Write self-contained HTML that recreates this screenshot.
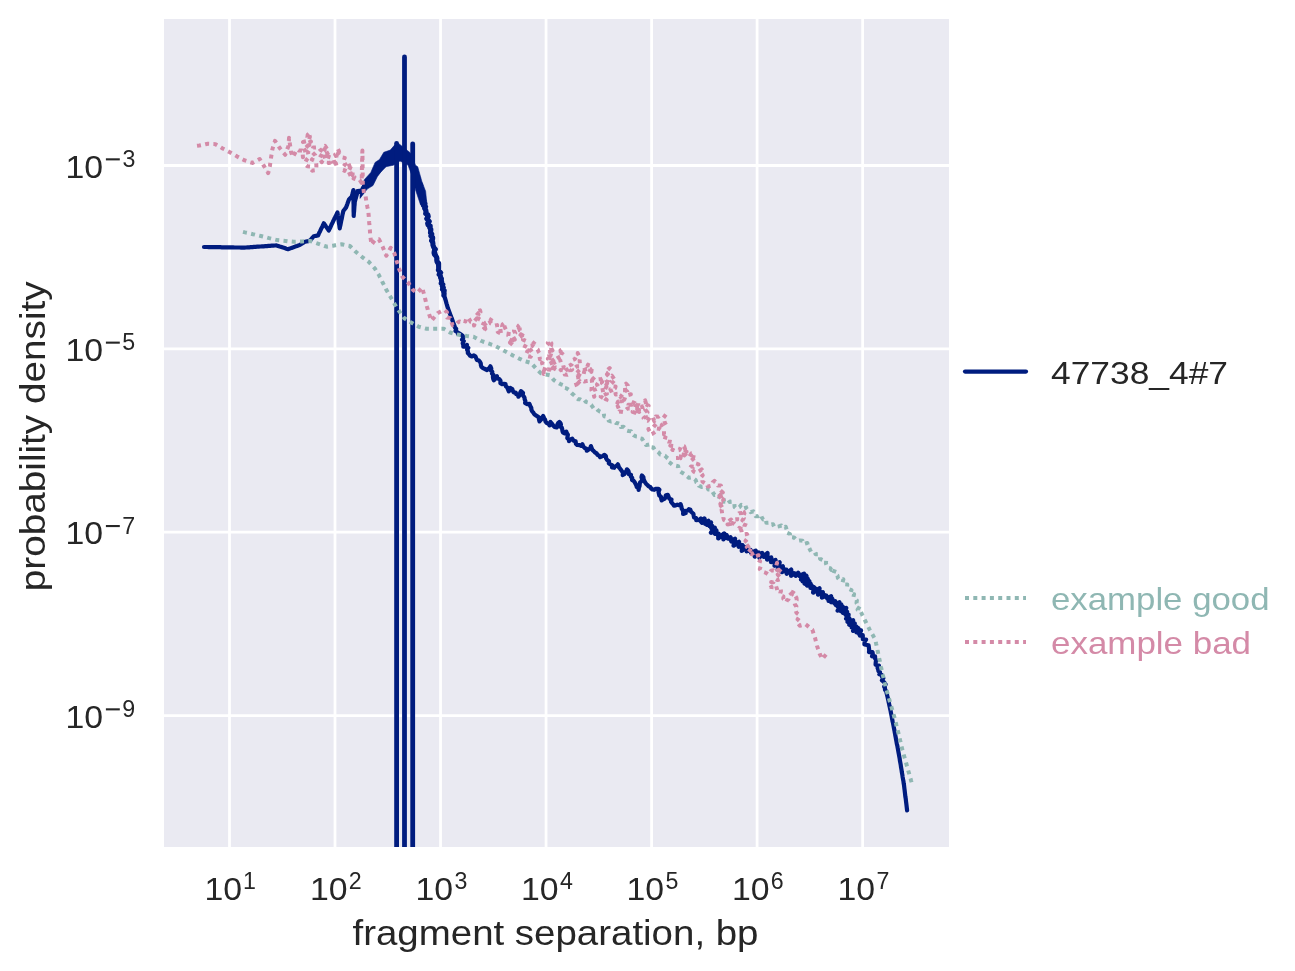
<!DOCTYPE html>
<html><head><meta charset="utf-8"><style>
html,body{margin:0;padding:0;background:#fff;width:1295px;height:971px;overflow:hidden}
svg{display:block;will-change:transform}
text{font-family:"Liberation Sans",sans-serif}
</style></head><body>
<svg width="1295" height="971" viewBox="0 0 1295 971">
<defs><clipPath id="clip"><rect x="164" y="19" width="785" height="828"/></clipPath></defs>
<rect x="0" y="0" width="1295" height="971" fill="#fff"/>
<rect x="164" y="19" width="785" height="828" fill="#eaeaf2"/>
<line x1="229.50" y1="19" x2="229.50" y2="847" stroke="#fff" stroke-width="2.78"/>
<line x1="335.02" y1="19" x2="335.02" y2="847" stroke="#fff" stroke-width="2.78"/>
<line x1="440.54" y1="19" x2="440.54" y2="847" stroke="#fff" stroke-width="2.78"/>
<line x1="546.06" y1="19" x2="546.06" y2="847" stroke="#fff" stroke-width="2.78"/>
<line x1="651.58" y1="19" x2="651.58" y2="847" stroke="#fff" stroke-width="2.78"/>
<line x1="757.10" y1="19" x2="757.10" y2="847" stroke="#fff" stroke-width="2.78"/>
<line x1="862.62" y1="19" x2="862.62" y2="847" stroke="#fff" stroke-width="2.78"/>
<line x1="164" y1="165.50" x2="949" y2="165.50" stroke="#fff" stroke-width="2.78"/>
<line x1="164" y1="348.84" x2="949" y2="348.84" stroke="#fff" stroke-width="2.78"/>
<line x1="164" y1="532.18" x2="949" y2="532.18" stroke="#fff" stroke-width="2.78"/>
<line x1="164" y1="715.52" x2="949" y2="715.52" stroke="#fff" stroke-width="2.78"/>
<g clip-path="url(#clip)">
<path d="M204.0,247.0 L205.6,247.0 L207.2,247.0 L208.8,247.1 L210.5,247.1 L212.1,247.1 L213.7,247.1 L215.3,247.2 L216.9,247.2 L218.5,247.2 L220.2,247.2 L221.8,247.3 L223.4,247.3 L225.0,247.3 L226.6,247.3 L228.2,247.4 L229.9,247.4 L231.5,247.4 L233.1,247.4 L234.7,247.5 L236.3,247.5 L237.9,247.5 L239.6,247.5 L241.2,247.6 L242.8,247.6 L244.4,247.6 L246.0,247.5 L247.6,247.4 L249.2,247.3 L250.8,247.2 L252.4,247.1 L254.0,246.9 L255.6,246.8 L257.2,246.7 L258.8,246.6 L260.4,246.5 L262.1,246.4 L263.7,246.3 L265.3,246.2 L266.9,246.1 L268.5,245.9 L270.1,245.8 L271.7,245.7 L273.3,245.6 L274.9,245.5 L276.5,245.4 L278.1,245.9 L279.8,246.5 L281.4,247.0 L283.1,247.6 L284.7,248.1 L286.4,248.7 L288.0,249.2 L289.8,248.6 L291.6,247.9 L293.4,247.3 L295.2,246.6 L297.0,246.0 L300.0,244.9 L301.4,243.9 L302.9,243.0 L304.3,242.0 L306.2,241.5 L308.2,241.1 L310.1,240.6 L311.3,239.1 L312.5,237.7 L313.7,236.2 L315.9,235.8 L318.0,235.5 L318.7,234.0 L319.4,232.4 L320.2,230.9 L320.9,229.4 L321.6,227.9 L322.4,226.4 L323.1,224.8 L323.8,223.3 L324.8,224.7 L325.8,226.2 L326.8,227.6 L327.8,229.1 L328.8,230.5 L329.5,228.9 L330.3,227.4 L331.0,225.8 L331.7,224.2 L332.5,222.7 L333.2,221.1 L333.9,219.7 L334.6,218.2 L335.4,216.8 L336.1,215.3 L336.8,213.8 L337.5,212.4 L337.7,214.0 L337.9,215.6 L338.2,217.2 L338.4,218.8 L338.6,220.4 L338.8,221.9 L339.0,223.5 L339.3,225.1 L339.5,226.7 L339.7,228.3 L340.0,226.7 L340.4,225.2 L340.7,223.6 L341.0,222.0 L341.3,220.4 L341.7,218.9 L342.0,217.3 L342.3,215.7 L342.6,214.1 L343.0,212.6 L343.3,211.0 L344.7,209.2 L346.1,207.4 L346.7,205.8 L347.3,204.2 L347.8,202.7 L348.4,201.1 L349.0,199.5 L350.4,198.1 L351.9,196.6 L352.3,195.0 L352.6,193.3 L353.0,191.7 L353.4,190.1 L353.4,191.7 L353.4,193.3 L353.5,195.0 L353.5,196.6 L353.5,198.2 L353.5,199.8 L353.5,201.4 L353.5,203.1 L353.6,204.7 L353.6,206.3 L353.6,207.9 L353.6,209.5 L353.6,211.1 L353.7,212.8 L353.7,214.4 L353.7,216.0 L353.8,214.4 L353.9,212.8 L354.1,211.2 L354.2,209.6 L354.3,208.0 L354.4,206.4 L354.6,204.8 L354.7,203.2 L354.8,201.6 L355.3,199.9 L355.8,198.2 L356.2,196.6 L356.7,194.9 L357.2,193.2 L357.7,191.5 L359.5,191.5 L361.3,191.5 L362.2,190.1 L363.1,188.7 L364.0,187.2 L364.9,185.8 L366.0,184.5 L367.0,183.2 L368.1,182.0 L369.2,180.7 L370.4,179.5 L371.6,178.3 L372.8,177.1 L374.0,175.9 L375.2,174.8 L376.4,173.6 L377.6,172.4 L378.8,171.2 L380.0,170.0 L381.2,168.8 L382.3,167.5 L383.5,166.3 L384.6,165.1 L385.8,163.8 L386.9,162.6 L388.1,161.4 L389.2,160.2 L390.4,158.9 L391.5,157.7 L392.7,156.5 L393.8,155.2 L395.0,154.0 L396.5,154.6 L398.0,155.2 L399.5,155.8 L401.0,156.4 L402.5,157.0 L404.0,157.6 L405.5,158.2 L407.0,158.8 L408.5,159.4 L410.0,160.0 L410.7,161.5 L411.3,163.0 L412.0,164.5 L412.7,166.0 L413.3,167.5 L414.0,169.0 L414.7,170.5 L415.3,172.0 L416.0,173.5 L416.7,175.0 L417.3,176.5 L418.0,178.0 L418.4,179.7 L418.7,181.4 L419.1,183.1 L419.5,184.8 L419.9,186.5 L420.2,188.2 L420.6,189.9 L421.0,191.6 L421.3,193.3 L421.7,195.0 L422.1,196.7 L422.5,198.3 L422.9,200.0 L423.4,201.7 L423.8,203.4 L424.2,205.1 L424.6,206.7 L425.0,208.4 L425.4,210.1 L425.9,211.7 L426.4,213.4 L426.8,215.1 L427.2,216.7 L427.7,218.4 L428.0,220.0 L428.4,221.6 L428.7,223.2 L429.0,224.8 L429.4,226.3 L429.7,227.9 L430.1,229.5 L430.4,231.1 L430.7,232.9 L431.1,234.6 L431.4,236.4 L431.8,238.1 L432.1,239.9 L432.4,241.7 L432.8,243.4 L433.1,245.2 L433.5,246.8 L434.0,248.5 L434.4,250.1 L434.9,251.8 L435.3,253.4 L435.8,255.1 L436.2,256.7 L436.7,258.4 L437.1,260.0 L437.4,261.7 L437.7,263.4 L438.1,265.0 L438.4,266.7 L438.7,268.4 L439.0,270.1 L439.4,271.8 L439.7,273.4 L440.0,275.1 L440.4,276.8 L440.7,278.4 L441.1,280.1 L441.4,281.8 L441.7,283.5 L442.1,285.1 L442.4,286.8 L442.8,288.5 L443.1,290.2 L443.4,291.9 L443.8,293.5 L444.1,295.2 L444.6,296.9 L445.1,298.5 L445.6,300.2 L446.1,301.9 L446.5,303.5 L447.0,305.2 L447.5,306.8 L448.0,308.5 L448.6,310.1 L449.2,311.7 L449.8,313.3 L450.4,314.9 L451.0,316.4 L451.5,317.9 L452.1,319.4 L452.7,321.0 L453.2,322.5 L453.8,324.0 L454.4,325.7 L454.9,327.4 L456.2,328.9 L455.5,331.0 L457.5,332.2 L458.0,333.9 L459.4,333.4 L461.7,335.0 L462.7,335.9 L463.3,337.6 L462.0,339.6 L463.8,341.1 L462.7,343.2 L463.3,344.9 L463.3,346.7 L465.9,346.5 L466.9,344.9 L466.5,346.5 L468.3,347.9 L467.1,349.8 L467.9,351.3 L467.8,353.0 L469.3,354.5 L470.0,355.6 L471.6,356.5 L473.9,355.4 L475.4,356.5 L476.2,358.2 L476.9,359.9 L478.9,360.5 L480.0,361.8 L480.8,363.5 L480.9,365.3 L481.5,366.9 L483.0,368.1 L485.0,369.0 L487.0,370.0 L488.0,368.9 L489.5,367.9 L490.4,366.3 L491.3,368.6 L490.8,370.4 L492.3,371.8 L492.0,373.7 L493.6,375.1 L492.9,377.0 L493.2,378.7 L493.8,380.3 L495.0,378.9 L495.9,377.4 L497.0,376.3 L497.1,378.2 L499.4,379.1 L500.5,380.7 L500.4,383.1 L502.1,384.1 L503.9,383.8 L505.5,384.1 L505.8,386.2 L507.4,387.6 L508.0,389.5 L508.8,391.3 L509.6,390.0 L510.5,388.0 L512.3,389.0 L512.8,390.8 L513.6,392.3 L515.7,392.5 L516.3,394.2 L517.9,394.9 L518.4,396.7 L519.9,394.7 L520.2,392.8 L521.0,391.2 L523.0,392.8 L522.7,394.7 L523.5,396.2 L524.5,397.7 L524.7,399.4 L525.4,401.0 L525.1,402.9 L526.9,404.1 L529.4,403.8 L529.7,404.5 L530.3,406.2 L531.3,407.8 L531.4,409.7 L532.2,411.3 L533.4,412.7 L534.3,414.3 L535.8,415.4 L537.3,416.3 L538.7,417.3 L539.0,419.4 L539.5,421.4 L541.3,419.4 L542.1,417.6 L543.2,416.0 L544.1,418.1 L545.1,419.6 L545.5,421.5 L546.6,422.9 L548.5,423.9 L549.5,425.4 L549.6,423.8 L550.5,422.0 L552.1,423.9 L553.2,425.5 L554.5,426.9 L556.7,427.4 L557.7,426.5 L557.4,424.6 L558.2,423.1 L559.4,421.9 L560.4,422.9 L560.9,424.4 L560.1,426.4 L561.7,427.5 L562.2,429.1 L562.4,430.8 L562.8,432.3 L564.6,433.3 L564.9,432.4 L566.3,431.6 L566.9,433.3 L567.9,434.7 L567.6,436.4 L567.3,438.2 L568.9,439.5 L569.0,441.1 L570.4,439.4 L572.2,438.7 L573.5,440.7 L575.6,441.2 L575.9,443.7 L577.2,445.0 L579.7,445.2 L581.1,445.9 L582.4,444.2 L583.2,446.3 L584.4,447.8 L586.3,448.7 L586.8,450.7 L588.7,449.4 L590.3,448.2 L590.9,446.1 L591.7,448.2 L592.3,449.9 L593.7,451.0 L594.9,452.4 L596.6,453.4 L597.4,454.8 L599.1,455.6 L600.2,457.2 L602.6,456.1 L604.5,454.9 L605.9,456.1 L606.1,458.3 L607.2,460.0 L609.0,461.2 L608.8,463.3 L610.3,464.4 L612.2,465.1 L612.0,467.4 L614.3,467.8 L614.8,466.6 L616.7,465.8 L617.9,464.3 L618.5,465.8 L619.0,467.4 L620.1,468.7 L621.2,470.1 L622.2,471.6 L623.1,473.0 L622.7,475.1 L624.5,473.9 L625.2,472.3 L626.5,471.1 L626.9,469.3 L628.3,470.7 L628.8,472.3 L628.8,474.2 L631.0,474.8 L630.9,476.7 L632.2,477.9 L632.0,479.9 L633.7,480.9 L634.7,482.3 L635.5,483.8 L636.3,485.4 L636.8,487.0 L638.5,488.0 L638.6,490.0 L638.9,487.7 L639.6,486.0 L639.7,484.2 L640.1,482.4 L641.8,481.0 L642.1,479.2 L641.5,477.2 L641.9,475.5 L643.4,477.2 L643.6,479.1 L644.3,480.9 L645.2,482.5 L646.3,484.0 L647.8,485.3 L648.7,486.4 L650.2,487.0 L651.2,488.5 L652.5,489.5 L654.2,489.8 L655.7,488.9 L658.2,488.8 L659.4,489.7 L658.5,491.9 L658.9,493.7 L659.3,495.4 L661.0,496.8 L661.2,498.6 L661.7,500.4 L663.2,499.3 L664.8,498.5 L665.4,496.9 L665.9,495.2 L667.8,494.8 L668.2,495.7 L668.8,497.3 L669.4,498.8 L671.5,499.5 L671.0,501.7 L672.0,503.0 L673.2,504.3 L674.0,505.7 L675.7,505.4 L677.3,504.7 L679.0,505.2 L680.6,504.1 L681.4,506.7 L681.7,508.6 L682.8,510.2 L683.2,512.0 L683.1,514.0 L685.7,513.1 L685.8,510.8 L687.9,510.6 L688.9,509.2 L690.4,509.8 L690.9,511.5 L692.2,512.7 L693.4,513.8 L693.7,515.7 L694.1,517.5 L696.1,518.1 L696.2,520.1 L698.9,519.9 L700.9,518.5 L703.1,519.7 L704.4,520.5 L705.4,522.2 L707.7,523.8 L709.7,525.9 L712.2,527.6 L712.5,529.5 L713.3,531.0 L714.4,532.2 L716.1,532.9 L717.7,534.9 L720.0,535.8 L722.0,537.0 L724.0,537.6 L726.0,538.0 L728.0,538.3 L730.0,538.9 L732.0,539.7 L734.0,540.7 L736.0,542.1 L738.0,543.4 L740.0,544.7 L742.0,545.8 L744.0,546.9 L746.0,548.0 L748.0,549.2 L750.0,550.5 L752.0,552.0 L754.0,553.3 L756.0,554.3 L758.0,555.0 L760.0,555.5 L762.0,555.7 L764.0,556.1 L766.0,556.9 L768.0,558.1 L770.0,559.4 L772.0,560.8 L774.0,562.2 L776.0,563.5 L778.0,564.8 L780.0,566.2 L782.0,567.6 L784.0,569.0 L786.0,570.3 L788.0,571.4 L790.0,572.3 L792.0,573.0 L794.0,573.4 L796.0,573.7 L798.0,574.1 L800.0,575.0 L802.0,576.5 L804.0,578.4 L806.0,580.5 L808.0,582.6 L810.0,584.3 L812.0,585.9 L814.0,587.4 L816.0,588.9 L818.0,590.4 L820.0,591.7 L822.0,593.2 L824.0,594.6 L826.0,596.2 L828.0,597.8 L830.0,599.5 L832.0,601.2 L834.0,602.8 L836.0,604.4 L838.0,606.1 L840.0,607.9 L842.0,609.8 L844.0,612.0 L845.0,613.2 L846.0,614.5 L847.0,615.9 L848.0,617.3 L849.0,618.8 L850.0,620.2 L851.0,621.7 L852.0,623.2 L853.0,624.6 L854.0,626.0 L855.0,627.3 L857.3,627.6 L859.2,630.0 L859.6,633.8 L859.9,635.6 L862.8,635.2 L862.8,639.2 L866.1,639.5 L864.9,641.2 L864.5,642.9 L864.4,644.5 L868.6,645.3 L868.9,647.6 L869.2,650.0 L869.0,652.1 L872.5,652.0 L872.8,653.8 L872.0,656.3 L875.1,656.4 L875.1,658.4 L876.1,660.2 L875.7,662.5 L875.6,664.7 L878.9,665.6 L877.6,667.9 L878.2,669.4 L878.4,671.1 L880.0,672.3 L879.3,674.3 L881.8,675.1 L882.1,676.8 L883.3,678.2 L881.9,680.4 L883.5,681.6 L884.7,683.0 L885.6,684.4 L884.2,686.7 L885.0,688.1 L885.0,689.8 L886.2,691.2 L886.5,692.7 L886.9,694.3 L887.3,695.9 L887.7,697.5 L888.0,699.1 L888.4,700.7 L888.7,702.3 L889.1,703.9 L889.4,705.6 L889.8,707.2 L890.1,708.8 L890.5,710.4 L890.8,712.0 L891.1,713.6 L891.4,715.2 L891.7,716.7 L892.0,718.3 L892.3,719.9 L892.6,721.5 L893.0,723.0 L893.3,724.6 L893.6,726.2 L893.9,727.8 L894.2,729.3 L894.5,730.9 L894.8,732.5 L895.1,734.1 L895.4,735.8 L895.7,737.4 L896.0,739.1 L896.3,740.7 L896.6,742.4 L896.9,744.0 L897.3,745.7 L897.6,747.3 L897.9,749.0 L898.2,750.6 L898.5,752.3 L898.8,753.9 L899.1,755.6 L899.4,757.2 L899.7,758.8 L899.9,760.5 L900.2,762.1 L900.5,763.7 L900.8,765.4 L901.0,767.0 L901.3,768.6 L901.6,770.3 L901.8,771.9 L902.1,773.6 L902.4,775.2 L902.6,776.8 L902.9,778.5 L903.2,780.1 L903.5,781.7 L903.7,783.4 L904.0,785.0 L904.2,786.7 L904.4,788.4 L904.6,790.1 L904.8,791.8 L905.0,793.5 L905.2,795.2 L905.4,796.9 L905.7,798.5 L905.9,800.2 L906.1,801.9 L906.3,803.6 L906.5,805.3 L906.7,807.0 L906.9,808.7 L907.1,810.4" fill="none" stroke="#001c7f" stroke-width="4.2" stroke-linejoin="round" stroke-linecap="round"/>
<path d="M357.7,191.5 L359.5,191.3 L361.3,191.7 L363.3,190.8 L363.0,188.6 L364.0,187.2 L365.1,185.9 L365.2,183.9 L367.1,183.3 L368.4,182.2 L369.9,181.3" fill="none" stroke="#001c7f" stroke-width="5.0" stroke-linejoin="round" stroke-linecap="round"/>
<path d="M418.0,178.0 L418.4,179.5 L418.3,181.2 L418.6,182.7 L420.2,184.0 L420.8,185.5 L420.3,187.2 L420.9,188.7 L420.0,190.5 L420.6,192.0 L421.1,193.5 L421.6,195.0 L421.7,196.6 L423.3,197.8 L422.9,199.4 L424.0,200.8 L422.6,202.7 L424.9,203.7 L423.5,205.6 L425.6,206.7 L424.6,208.5 L425.8,210.0 L426.1,211.7 L425.6,213.6 L427.9,214.8 L428.3,216.5 L426.7,218.7 L428.0,220.0 L429.3,221.4 L427.6,223.4 L428.0,225.0 L430.3,226.1 L429.9,227.9 L430.9,229.3 L430.8,231.0 L430.4,232.7 L431.8,234.1 L430.8,235.9 L432.7,237.2 L432.7,238.8 L431.5,240.6 L432.7,242.0 L433.0,243.6 L432.9,245.2 L433.6,246.7 L434.2,248.1 L435.4,249.3 L434.2,251.3 L434.0,252.9 L434.4,254.4 L435.5,255.7 L436.6,257.0 L437.0,258.4 L436.7,260.1 L437.0,261.8 L438.7,263.2 L438.7,264.9 L438.7,266.7 L438.7,268.4 L438.3,270.0 L439.3,271.4 L440.7,272.6 L439.1,274.5 L440.4,275.8 L440.5,277.3 L441.5,278.7 L441.3,280.3 L441.7,281.7 L441.1,283.4 L442.9,284.6 L442.2,286.3 L443.4,287.6 L442.4,289.3 L444.3,290.5 L444.0,292.1 L444.2,293.6 L443.8,295.3" fill="none" stroke="#001c7f" stroke-width="5.0" stroke-linejoin="round" stroke-linecap="round"/>
<path d="M700.0,520.4 L701.9,522.7 L704.5,518.5 L705.2,523.8 L708.5,520.9 L706.9,524.7 L711.0,522.6 L709.6,526.0 L712.0,525.8 L711.5,528.2 L714.8,527.8 L711.0,532.7 L716.4,530.6 L715.0,533.8 L718.6,533.6 L718.3,538.4 L724.1,533.5 L723.5,539.3 L726.6,535.1 L728.0,538.2 L730.5,537.3 L731.3,541.4 L735.0,538.7 L733.6,545.6 L739.0,541.9 L738.7,546.7 L742.4,545.2 L741.8,550.9 L746.5,547.1 L746.7,551.3 L750.4,549.9 L751.2,553.0 L755.7,550.7 L754.8,556.6 L758.8,552.6 L759.4,557.7 L762.3,553.1 L763.9,556.8 L767.5,553.0 L767.1,559.5 L771.2,557.6 L771.1,562.1 L775.5,560.1 L774.6,565.7 L779.6,562.4 L777.8,569.4 L782.8,566.4 L781.9,572.0 L786.4,569.7 L786.7,573.7 L791.2,569.7 L791.1,575.7 L794.0,573.5 L795.7,575.8 L798.2,572.9 L799.5,576.0 L804.0,573.8 L801.1,579.5 L806.4,575.9 L802.9,581.5 L807.7,578.9 L804.8,583.7 L809.3,581.3 L807.2,585.6 L810.5,583.7 L810.5,587.8 L813.9,587.5 L813.2,592.6 L819.5,588.4 L818.1,594.6 L822.8,592.2 L822.0,597.5 L826.3,595.8 L827.4,598.6 L831.0,596.3 L828.8,600.9 L832.3,598.8 L831.2,602.2 L835.2,601.3 L835.7,604.8 L839.4,602.4 L837.7,606.4 L841.2,604.5 L837.7,610.5 L842.9,606.9 L840.8,611.1 L846.2,608.0 L843.1,612.8 L847.0,611.7 L845.7,614.8 L848.6,614.8 L846.2,618.6 L849.4,618.5 L847.6,621.9 L853.1,620.3 L849.4,624.9 L854.7,623.4 L851.9,627.5 L856.1,626.4 L853.2,630.8 L858.4,628.6 L856.6,632.2 L861.0,630.5 L859.4,633.9" fill="none" stroke="#001c7f" stroke-width="4.4" stroke-linejoin="round" stroke-linecap="round"/>
<path d="M360.0,194.8 L364.3,179.7 L370.8,172.5 L375.1,162.4 L379.5,159.5 L383.8,152.3 L390.3,150.1 L394.6,145.1 L398.9,143.7 L403.3,147.3 L410.5,153.0 L415.5,165.3 L417.7,166.7 L422.0,181.9 L425.6,191.2 L427.0,205.0 L420.6,205.0 L415.5,189.8 L411.9,175.4 L408.0,165.0 L400.0,161.0 L393.2,165.3 L386.0,166.7 L381.6,171.0 L377.3,176.8 L373.0,185.5 L367.2,189.1 L360.0,198.4 Z" fill="#001c7f" stroke="#001c7f" stroke-width="0.6" stroke-linejoin="round"/>
<line x1="396.6" y1="143.5" x2="396.6" y2="860" stroke="#001c7f" stroke-width="4.8" stroke-linecap="round"/>
<line x1="404.5" y1="57" x2="404.5" y2="860" stroke="#001c7f" stroke-width="4.8" stroke-linecap="round"/>
<line x1="412.7" y1="143.8" x2="412.7" y2="860" stroke="#001c7f" stroke-width="4.8" stroke-linecap="round"/>
<path d="M243.0,231.9 L245.0,232.4 L247.0,232.8 L248.9,233.3 L250.9,233.7 L252.9,234.2 L254.9,234.6 L256.8,235.1 L258.8,235.5 L260.8,236.0 L262.9,236.5 L264.9,237.0 L267.0,237.5 L269.1,238.1 L271.1,238.6 L273.2,239.1 L275.2,239.6 L277.3,240.1 L279.4,240.3 L281.4,240.5 L283.5,240.7 L285.6,240.9 L287.6,241.2 L289.7,241.4 L291.7,241.6 L293.8,241.8 L295.9,241.7 L297.9,241.6 L300.0,241.5 L302.1,241.4 L304.1,241.3 L306.2,241.2 L308.2,241.1 L310.3,241.0 L312.4,241.7 L314.4,242.4 L316.4,243.1 L318.5,243.8 L320.6,244.6 L322.6,245.3 L324.6,246.0 L326.7,246.7 L328.8,246.4 L331.0,246.0 L333.1,245.7 L335.2,245.3 L337.3,245.0 L339.5,244.6 L341.6,244.3 L343.7,244.7 L345.8,245.2 L347.8,245.6 L349.9,246.0 L351.4,247.5 L353.0,249.1 L354.6,250.6 L356.1,252.1 L358.1,253.8 L360.2,255.4 L362.2,257.1 L363.9,258.3 L365.6,259.6 L367.3,260.8 L369.0,262.0 L370.4,263.6 L371.8,265.1 L373.2,266.6 L374.6,268.2 L375.7,269.9 L376.8,271.6 L377.8,273.3 L378.9,275.0 L379.8,276.9 L380.8,278.7 L381.7,280.5 L382.6,282.4 L383.5,284.2 L384.5,286.1 L385.4,287.9 L386.3,289.8 L387.4,291.6 L388.5,293.5 L389.6,295.4 L390.7,297.2 L391.8,299.1 L392.9,300.9 L393.9,302.8 L395.0,304.7 L396.4,306.9 L397.9,309.2 L399.3,311.4 L400.6,313.1 L401.8,314.8 L403.1,316.5 L404.3,318.2 L406.0,319.3 L407.7,320.4 L409.4,321.5 L411.1,322.6 L413.0,323.6 L414.9,324.6 L416.8,325.7 L418.7,326.7 L420.6,327.2 L422.6,327.8 L424.6,328.3 L426.5,328.8 L428.7,328.8 L430.9,328.8 L433.0,328.8 L435.2,328.8 L437.4,328.8 L439.5,328.8 L441.6,328.8 L443.8,328.8 L445.9,330.0 L447.9,331.3 L450.0,332.5 L452.6,333.2 L455.1,333.9 L457.7,334.6 L460.0,334.9 L462.2,335.2 L464.5,335.5 L466.7,335.9 L469.0,336.2 L471.2,336.5 L473.5,336.8 L475.3,337.8 L477.1,338.8 L478.9,339.7 L480.7,340.7 L482.8,341.5 L484.9,342.2 L487.0,343.0 L489.1,343.7 L491.2,344.5 L493.3,345.2 L495.4,346.0 L497.2,347.0 L499.1,348.0 L500.9,349.0 L502.8,350.1 L504.6,351.1 L506.5,352.1 L508.3,353.1 L510.2,354.1 L512.1,355.1 L514.0,356.0 L515.9,357.0 L517.9,357.9 L519.8,358.9 L521.7,359.8 L523.6,360.8 L526.1,361.5 L528.6,362.2 L531.1,362.9 L532.8,364.8 L534.4,366.6 L536.1,368.5 L537.7,370.1 L539.4,371.8 L541.0,373.4 L543.2,373.9 L545.4,374.4 L547.5,374.8 L549.7,375.3 L551.1,376.9 L552.6,378.6 L554.0,380.2 L555.7,381.3 L557.4,382.4 L559.1,383.4 L560.9,384.3 L563.3,385.2 L564.1,387.9 L566.7,388.4 L568.9,390.0 L570.6,392.0 L572.4,393.9 L574.4,395.5 L576.0,397.8 L578.2,399.3 L580.2,399.3 L582.0,400.5 L584.2,399.7 L585.8,401.9 L587.8,402.4 L589.1,403.4 L591.2,404.8 L592.6,406.8 L593.9,408.7 L596.6,408.6 L598.1,410.4 L600.0,411.7 L602.1,412.4 L603.8,413.6 L604.2,416.3 L606.5,416.9 L607.8,418.6 L608.7,420.7 L610.8,421.5 L613.7,421.1 L616.1,423.1 L618.1,423.3 L620.4,424.3 L620.9,427.1 L623.5,426.8 L625.1,428.3 L626.3,430.4 L628.4,431.0 L631.1,431.3 L632.0,433.8 L633.7,435.3 L635.6,436.3 L637.9,436.5 L639.6,438.2 L642.1,438.8 L643.4,440.9 L644.9,442.7 L646.1,445.1 L649.3,444.4 L650.5,447.2 L653.4,447.6 L654.8,450.1 L657.2,451.4 L658.9,452.7 L660.3,454.6 L662.7,455.0 L664.9,455.7 L666.6,457.4 L668.3,458.8 L668.4,461.8 L670.3,463.0 L672.6,465.0 L675.4,465.6 L678.2,466.2 L678.6,469.1 L680.0,471.2 L681.7,472.5 L683.6,473.5 L685.4,474.6 L686.8,476.2 L688.9,477.8 L691.8,477.3 L694.1,478.8 L695.7,480.1 L696.4,482.4 L698.2,483.5 L699.0,485.7 L701.5,486.9 L704.9,486.4 L707.2,487.6 L708.3,489.5 L710.6,489.6 L712.1,491.2 L713.3,493.1 L714.6,495.0 L717.1,494.7 L718.4,496.6 L721.7,494.7 L723.6,497.7 L724.0,501.7 L728.2,499.8 L729.6,501.9 L732.3,501.7 L734.3,502.9 L734.6,507.1 L736.4,508.6 L739.4,507.2 L741.3,504.8 L743.3,505.4 L745.3,504.9 L746.2,508.1 L747.5,509.6 L749.7,510.4 L750.7,512.2 L753.3,511.3 L754.5,513.9 L755.7,516.3 L757.9,516.3 L760.9,514.5 L761.9,517.5 L763.2,519.5 L766.2,519.2 L766.3,522.8 L769.2,522.6 L770.4,524.8 L773.0,524.2 L774.4,527.2 L776.6,526.8 L778.8,526.4 L781.5,525.5 L783.0,527.6 L785.7,526.7 L786.7,529.9 L786.2,532.5 L790.0,534.0 L789.6,536.9 L791.8,537.3 L794.0,537.5 L795.8,539.4 L797.7,540.8 L800.1,540.4 L802.6,540.8 L803.7,544.0 L807.4,543.0 L807.5,546.1 L809.1,547.7 L810.1,549.9 L811.1,551.9 L814.7,552.2 L815.7,554.3 L818.3,554.3 L820.1,556.3 L820.0,558.8 L822.6,559.9 L826.2,560.4 L825.9,563.5 L826.8,565.7 L827.9,567.6 L830.2,568.1 L831.3,570.0 L835.2,568.7 L833.6,573.2 L835.7,574.3 L837.5,575.6 L837.9,578.1 L839.3,579.8 L843.4,579.2 L842.4,583.0 L844.0,584.5 L847.3,584.6 L846.9,587.8 L848.9,589.0 L851.5,590.1 L850.4,593.5 L854.1,594.1 L853.4,597.1 L855.3,598.8 L856.9,600.4 L856.5,603.0 L857.8,604.8 L859.8,606.3 L857.6,609.7 L860.4,610.8 L861.3,612.8 L862.2,614.8 L863.1,616.6 L864.0,618.4 L864.9,620.2 L865.8,622.0 L866.7,623.8 L867.6,625.6 L868.5,627.4 L869.4,629.2 L870.6,631.2 L871.7,633.2 L872.9,635.3 L874.0,637.3 L875.2,639.3 L875.7,641.5 L876.1,643.6 L876.6,645.8 L877.1,648.0 L877.5,650.1 L878.0,652.3 L878.4,654.4 L878.8,656.4 L879.2,658.5 L879.7,660.5 L880.1,662.6 L880.5,664.6 L880.9,666.7 L881.4,668.7 L881.8,670.6 L882.3,672.6 L882.7,674.5 L883.2,676.5 L883.7,678.4 L884.1,680.4 L884.6,682.3 L885.0,684.2 L885.5,686.2 L886.1,688.2 L886.6,690.2 L887.2,692.3 L887.8,694.3 L888.4,696.3 L889.0,698.4 L889.5,700.4 L890.1,702.4 L890.7,704.4 L891.3,706.5 L891.9,708.5 L892.5,710.5 L893.0,712.5 L893.6,714.5 L894.2,716.6 L894.8,718.6 L895.3,720.8 L895.9,723.0 L896.4,725.2 L897.0,727.4 L897.5,729.6 L898.1,731.8 L898.6,734.0 L899.1,736.0 L899.6,738.0 L900.1,740.1 L900.5,742.1 L901.0,744.1 L901.5,746.2 L902.0,748.2 L902.5,750.2 L903.1,752.2 L903.6,754.2 L904.2,756.3 L904.8,758.3 L905.4,760.3 L906.0,762.4 L906.5,764.4 L907.1,766.4 L907.7,768.4 L908.2,770.5 L908.8,772.5 L909.4,774.5 L910.0,776.6 L910.6,778.6 L911.1,780.7 L911.7,782.7" fill="none" stroke="#8fb7b3" stroke-width="4.0" stroke-dasharray="4.0 4.3" stroke-linejoin="round"/>
<path d="M197.0,145.8 L199.3,145.5 L201.4,145.1 L203.5,144.7 L205.6,144.2 L207.7,143.8 L210.3,143.9 L212.9,144.1 L215.5,144.2 L217.3,145.3 L219.1,146.3 L220.9,147.4 L222.7,148.5 L224.5,149.4 L226.3,150.4 L228.1,151.4 L229.9,152.3 L231.7,153.4 L233.6,154.4 L235.4,155.4 L237.2,156.5 L239.1,157.5 L241.0,158.4 L242.9,159.4 L244.8,160.4 L246.7,161.0 L248.6,161.7 L250.5,162.3 L252.4,162.9 L254.2,161.9 L256.1,161.0 L257.9,160.1 L259.7,159.1 L261.1,161.4 L262.5,163.6 L263.9,165.9 L265.0,167.7 L266.0,169.5 L267.1,171.3 L268.2,173.1 L268.8,170.7 L269.3,168.3 L269.9,165.9 L270.2,163.8 L270.5,161.7 L270.8,159.5 L271.1,157.4 L271.4,155.4 L271.8,153.4 L272.1,151.3 L272.4,149.3 L273.0,147.2 L273.7,145.1 L274.4,142.9 L275.0,140.8 L276.3,142.7 L277.6,144.7 L278.8,146.6 L280.1,148.5 L281.4,150.1 L282.6,151.7 L283.9,153.2 L285.2,154.8 L286.1,152.5 L286.9,150.2 L287.8,147.8 L288.6,145.5 L288.7,142.9 L288.9,140.4 L289.0,137.8 L289.3,139.9 L289.6,141.9 L289.9,144.0 L290.2,146.1 L290.5,148.2 L290.8,150.2 L291.1,152.3 L292.0,154.7 L292.8,157.0 L293.9,155.1 L294.9,153.2 L295.9,151.2 L297.0,149.3 L298.9,150.6 L301.9,150.4 L302.7,153.4 L302.9,157.2 L305.5,152.7 L305.0,150.5 L303.9,148.3 L306.2,146.6 L309.3,145.0 L303.0,142.0 L308.6,140.7 L309.2,138.8 L309.9,136.8 L309.2,134.7 L309.9,132.7 L307.7,134.7 L307.4,137.0 L308.3,139.3 L310.9,141.6 L305.4,144.1 L307.6,146.3 L310.3,148.4 L308.4,150.9 L308.1,153.2 L308.6,155.6 L308.3,157.9 L306.5,159.9 L305.5,162.1 L305.2,164.4 L307.3,166.2 L311.0,166.5 L310.9,169.1 L312.3,170.8 L312.8,170.5 L316.2,170.1 L316.4,165.8 L316.2,163.5 L316.1,161.3 L311.9,159.5 L315.8,156.8 L315.3,155.4 L312.1,152.0 L312.4,149.7 L313.1,147.6 L318.7,147.2 L319.3,148.4 L320.9,150.5 L318.0,153.7 L320.6,155.5 L323.1,156.7 L323.4,159.0 L321.8,162.1 L320.2,159.5 L321.4,157.6 L324.8,156.3 L323.5,153.9 L323.1,151.7 L324.6,150.0 L322.0,147.2 L324.9,145.8 L326.6,148.1 L328.5,150.0 L329.4,152.0 L324.2,155.0 L327.9,156.5 L330.7,157.4 L329.1,160.5 L328.7,163.0 L334.6,161.7 L335.9,163.3 L336.4,165.5 L336.3,165.3 L332.8,162.5 L336.9,161.2 L337.1,159.1 L336.5,156.9 L335.2,154.6 L339.4,153.3 L338.9,151.1 L337.8,148.8 L339.6,150.7 L338.0,153.4 L339.8,155.3 L341.6,157.4 L344.8,157.9 L343.1,161.0 L345.4,164.1 L343.6,166.3 L342.5,169.5 L344.5,170.8 L346.1,167.0 L349.7,166.5 L348.3,163.2 L348.3,166.7 L350.3,168.1 L352.9,169.2 L352.6,172.2 L352.6,174.9 L347.4,175.1 L351.3,173.2 L354.4,176.8 L353.6,178.5 L356.6,179.3 L359.7,180.0 L361.6,183.0 L361.7,181.0 L361.7,178.9 L361.8,176.9 L361.8,174.9 L361.9,172.8 L361.9,170.8 L361.9,168.8 L362.0,166.8 L362.1,164.7 L362.1,162.7 L362.1,160.7 L362.2,158.6 L362.2,156.6 L362.3,154.6 L362.3,152.5 L362.4,150.5 L362.4,152.6 L362.4,154.6 L362.5,156.7 L362.5,158.8 L362.5,160.8 L362.6,162.9 L362.6,164.9 L362.6,167.0 L362.6,169.1 L362.6,171.1 L362.7,173.2 L362.7,175.2 L362.7,177.3 L362.8,179.4 L362.8,181.4 L362.8,183.5 L363.1,185.9 L363.4,188.4 L363.7,190.9 L364.0,193.3 L365.3,194.1 L365.6,196.3 L365.9,198.4 L366.2,200.6 L366.5,202.8 L367.0,205.0 L367.4,207.1 L367.9,209.2 L368.4,211.4 L368.5,213.6 L368.7,215.8 L368.9,217.9 L369.0,220.1 L369.2,222.7 L369.5,225.4 L369.7,228.0 L369.9,230.0 L370.0,232.1 L370.1,234.1 L370.3,236.1 L370.6,238.2 L370.9,240.4 L371.2,242.5 L371.5,244.7 L372.7,243.1 L374.0,241.4 L375.2,239.8 L378.9,239.2 L379.8,241.0 L380.8,242.9 L381.7,244.8 L382.6,246.6 L383.5,248.9 L384.5,251.2 L385.4,253.5 L386.3,255.8 L387.4,253.8 L388.5,251.8 L389.6,249.8 L390.7,247.8 L391.9,249.7 L393.2,251.5 L394.4,253.4 L395.0,255.4 L395.6,257.4 L396.2,259.4 L396.8,261.4 L397.4,263.4 L398.1,265.4 L398.7,267.4 L399.3,269.4 L400.1,271.2 L400.9,273.1 L401.6,274.9 L402.4,276.8 L404.3,278.7 L406.1,280.5 L408.0,282.4 L409.2,284.2 L410.4,286.1 L411.7,287.9 L412.9,289.8 L415.0,291.4 L417.2,292.9 L418.9,291.1 L420.5,289.2 L422.2,287.4 L422.8,289.7 L423.4,292.0 L424.1,294.3 L424.7,296.6 L425.1,298.6 L425.6,300.6 L426.1,302.7 L426.5,304.7 L427.1,307.2 L427.8,309.6 L428.4,312.1 L429.1,314.2 L429.9,316.4 L430.6,318.6 L431.4,320.7 L432.9,318.9 L434.5,317.0 L436.1,315.1 L437.6,313.3 L439.9,311.9 L442.2,310.7 L444.7,310.0 L447.0,312.2 L446.0,315.5 L447.1,317.5 L450.7,318.1 L451.6,320.3 L451.8,323.0 L452.7,325.2 L455.5,325.1 L457.4,322.9 L459.5,321.4 L460.7,321.9 L462.4,320.2 L465.4,321.5 L466.4,318.4 L468.3,317.6 L470.7,321.7 L473.7,322.0 L474.0,325.6 L475.4,322.4 L477.6,320.7 L474.5,317.9 L476.7,316.2 L478.5,314.4 L475.4,311.7 L480.1,310.4 L480.5,311.9 L478.7,315.5 L478.2,317.6 L479.5,319.4 L482.5,320.8 L484.1,322.5 L482.8,325.0 L481.6,327.7 L485.3,328.7 L483.1,331.7 L484.0,328.4 L488.4,327.8 L484.9,324.3 L487.0,322.9 L490.5,321.9 L490.7,319.8 L491.9,318.0 L488.9,319.8 L490.0,321.6 L490.8,323.5 L493.8,324.8 L494.6,325.6 L497.2,325.1 L496.6,329.5 L497.8,331.9 L500.6,333.5 L498.0,331.4 L502.9,330.8 L502.7,328.6 L502.1,326.3 L502.6,324.4 L504.7,322.9 L503.8,324.5 L504.6,326.6 L505.4,328.7 L506.4,330.7 L508.9,331.6 L508.3,335.8 L509.7,337.2 L509.4,339.4 L512.3,340.9 L511.3,343.2 L512.8,345.0 L510.0,342.7 L511.3,340.7 L514.8,339.5 L513.2,336.9 L513.8,334.9 L515.3,333.1 L514.0,330.7 L514.3,327.9 L517.6,327.5 L518.6,325.6 L520.3,324.2 L520.4,325.9 L519.6,328.3 L519.8,330.5 L522.6,332.2 L521.7,334.7 L522.2,336.8 L523.9,338.8 L521.9,336.7 L522.4,334.3 L523.9,331.8 L520.5,335.0 L524.2,336.7 L523.0,339.6 L526.4,341.1 L526.8,343.4 L525.1,346.1 L523.9,348.8 L527.9,350.2 L526.3,353.5 L527.0,356.0 L530.7,356.8 L531.3,355.2 L532.5,353.0 L530.6,350.3 L532.7,348.3 L533.5,345.9 L533.4,343.3 L535.3,341.1 L532.3,343.5 L532.6,345.9 L535.1,347.7 L537.7,349.5 L538.4,351.5 L539.8,353.6 L539.5,356.6 L539.9,359.2 L544.0,359.7 L542.0,363.0 L542.8,365.1 L545.4,366.3 L544.6,369.1 L546.4,371.5 L543.6,374.0 L543.7,371.1 L548.8,371.5 L549.1,369.2 L549.3,366.9 L548.7,364.2 L551.8,362.8 L552.0,360.8 L547.9,358.7 L551.1,356.7 L551.2,354.4 L550.1,352.3 L550.2,350.2 L548.7,348.1 L551.1,345.6 L551.4,343.2 L548.4,340.7 L547.8,342.9 L550.0,344.6 L551.7,346.3 L551.2,348.4 L552.5,350.3 L549.0,352.9 L549.1,354.9 L553.5,356.2 L551.5,358.5 L552.8,360.4 L554.5,362.1 L554.0,364.2 L554.6,366.1 L552.4,368.5 L556.4,369.9 L552.9,367.8 L554.6,365.9 L553.0,363.4 L556.4,361.8 L557.2,360.1 L559.2,358.9 L557.4,355.6 L558.7,354.0 L560.8,352.8 L560.5,350.4 L562.9,349.3 L563.7,351.3 L561.6,353.5 L561.0,355.7 L561.8,358.6 L560.1,359.7 L561.0,363.0 L563.1,364.7 L563.7,367.7 L566.5,368.5 L569.0,368.3 L567.3,369.4 L565.6,370.6 L563.9,372.3 L560.6,369.9 L564.2,370.7 L564.8,374.6 L567.3,374.8 L570.4,373.5 L570.3,371.1 L572.1,369.5 L569.0,365.9 L571.5,364.6 L572.7,362.7 L572.3,360.2 L574.8,359.2 L575.8,357.2 L577.9,356.4 L577.7,353.0 L580.1,358.1 L579.6,360.6 L579.9,363.3 L580.3,366.3 L576.7,366.3 L574.4,368.0 L577.3,370.4 L579.4,372.7 L582.2,371.1 L584.5,369.8 L586.9,368.8 L589.1,370.2 L591.3,371.8 L591.9,368.2 L590.6,366.2 L588.0,364.7 L586.9,368.0 L590.4,369.0 L589.8,372.0 L589.4,372.5 L586.8,371.6 L584.3,371.2 L583.4,375.1 L581.5,376.5 L578.7,375.1 L576.8,376.2 L575.0,377.8 L578.2,377.0 L578.5,380.0 L577.6,382.4 L576.9,384.4 L574.0,385.4 L576.9,384.4 L578.4,382.8 L579.9,381.2 L580.2,381.6 L582.2,380.4 L584.3,381.6 L586.4,381.1 L588.7,380.8 L590.9,380.4 L592.9,379.0 L595.2,376.5 L593.6,378.4 L591.8,380.5 L592.2,383.0 L591.6,385.2 L591.7,387.6 L591.4,390.1 L592.5,392.3 L593.8,394.6 L594.2,396.8 L594.7,395.1 L596.1,393.3 L595.3,390.7 L594.1,388.0 L598.0,387.1 L597.0,384.5 L598.4,382.5 L598.1,379.4 L601.4,379.0 L603.8,377.8 L602.4,380.1 L601.9,383.0 L603.3,384.7 L607.2,383.2 L605.2,387.1 L602.4,388.1 L602.8,390.5 L603.2,392.9 L601.1,394.4 L600.7,396.6 L604.1,398.5 L605.7,401.0 L606.6,399.9 L603.8,397.6 L603.0,395.4 L606.9,393.7 L605.6,391.5 L605.0,389.4 L606.0,387.4 L607.3,385.4 L604.9,382.8 L607.7,381.1 L608.4,379.0 L609.3,376.9 L607.0,374.3 L609.1,372.4 L607.7,369.9 L609.7,368.1 L611.0,370.3 L608.0,372.6 L607.6,374.8 L610.3,377.1 L611.9,375.7 L614.4,379.4 L612.8,379.0 L611.6,381.1 L615.0,384.3 L613.2,386.5 L615.6,386.6 L615.0,388.2 L613.0,389.1 L610.3,389.2 L611.9,392.6 L615.3,391.5 L615.7,394.5 L618.7,393.9 L620.5,397.1 L622.6,394.1 L625.2,392.9 L625.0,390.5 L625.1,388.1 L624.1,385.5 L626.0,383.7 L627.9,385.6 L628.1,387.6 L625.4,390.0 L627.4,391.8 L627.5,394.4 L630.9,394.3 L627.5,395.3 L625.5,396.3 L624.5,399.2 L622.9,401.2 L620.2,400.9 L618.0,401.6 L616.9,404.4 L619.1,401.4 L622.1,401.2 L620.1,405.0 L617.7,406.0 L619.2,409.7 L618.7,412.1 L619.1,411.5 L621.3,411.7 L623.6,412.1 L625.4,410.1 L627.4,408.4 L630.1,408.6 L628.5,404.7 L632.0,404.8 L630.9,401.4 L635.2,403.4 L637.4,405.1 L637.1,407.2 L637.3,409.5 L636.2,411.2 L632.6,411.8 L636.3,413.1 L638.2,414.5 L636.5,412.4 L638.6,409.9 L636.3,408.3 L637.2,406.0 L638.4,403.7 L638.4,401.6 L638.7,403.5 L635.6,406.4 L635.8,408.5 L638.9,409.8 L639.1,411.9 L640.2,410.5 L642.8,409.8 L642.1,406.4 L645.3,406.2 L646.2,404.0 L645.1,400.4 L644.3,403.3 L648.6,405.7 L647.8,407.6 L645.1,409.4 L647.4,412.3 L645.2,414.0 L645.8,416.5 L643.6,418.3 L645.4,420.1 L647.6,420.7 L650.3,416.6 L652.5,417.0 L654.3,421.1 L655.9,416.5 L658.5,416.8 L660.4,415.3 L662.5,414.4 L666.3,417.3 L664.4,420.6 L664.9,422.9 L666.1,424.8 L664.6,423.0 L662.8,424.2 L660.9,425.8 L658.8,425.0 L656.5,423.6 L654.7,425.5 L653.0,427.8 L651.1,429.0 L648.4,429.1 L649.9,431.8 L650.9,434.4 L652.3,433.8 L654.1,432.6 L655.8,431.4 L656.6,428.4 L659.2,428.7 L661.6,430.2 L664.0,430.6 L664.0,434.6 L667.1,434.0 L665.7,436.2 L665.1,438.2 L664.5,440.2 L668.2,441.5 L670.6,441.7 L672.7,442.1 L670.3,445.7 L675.0,446.2 L672.4,449.9 L677.1,450.4 L679.5,450.0 L681.3,445.7 L684.2,446.3 L685.5,450.2 L687.9,448.9 L686.5,450.9 L683.0,449.6 L683.9,454.7 L680.8,453.9 L679.3,455.5 L678.4,458.0 L675.9,458.1 L678.0,458.1 L680.4,458.3 L681.4,453.6 L684.2,455.4 L686.7,453.3 L689.2,456.8 L691.6,453.2 L694.1,453.0 L693.3,457.3 L690.7,457.9 L691.1,460.8 L693.1,459.0 L694.3,462.9 L696.4,463.5 L698.5,464.4 L697.5,464.6 L695.2,465.0 L693.6,466.8 L691.0,466.4 L689.5,468.4 L692.2,469.5 L693.9,471.8 L696.3,473.0 L699.0,471.4 L701.7,469.3 L701.3,473.5 L702.7,475.2 L700.6,477.8 L702.4,479.5 L702.4,481.6 L705.0,483.2 L707.2,483.8 L707.7,486.5 L711.6,485.6 L712.7,482.3 L714.5,480.9 L717.0,483.5 L717.9,485.5 L720.9,485.4 L721.4,487.8 L720.4,490.3 L722.8,492.5 L718.8,494.2 L719.4,496.2 L721.0,498.4 L720.9,500.4 L720.4,502.4 L720.4,504.4 L721.3,502.4 L720.8,499.9 L721.5,497.7 L720.3,494.9 L720.1,497.6 L723.2,499.3 L723.4,501.3 L724.8,503.2 L720.7,505.8 L723.5,507.4 L721.6,509.7 L721.9,511.7 L722.2,514.0 L723.5,515.8 L723.4,518.0 L724.0,520.0 L727.7,521.8 L731.1,519.5 L732.7,522.2 L730.8,523.9 L727.5,524.5 L731.7,525.4 L732.6,523.5 L734.0,522.0 L733.6,519.3 L737.2,519.4 L737.2,516.9 L737.4,514.6 L738.9,513.2 L742.1,513.1 L741.5,510.2 L743.6,511.6 L744.4,513.5 L742.5,516.4 L743.8,518.2 L742.4,520.4 L746.3,521.8 L745.5,524.0 L744.3,526.3 L744.1,528.9 L742.0,529.3 L739.3,527.9 L737.8,529.9 L740.3,528.6 L741.4,530.6 L741.8,533.3 L743.7,534.3 L746.8,533.9 L748.3,537.2 L745.5,540.9 L747.3,542.9 L749.9,544.5 L746.8,547.0 L751.2,548.4 L749.8,550.6 L747.7,552.9 L751.5,554.2 L754.3,552.6 L756.0,556.1 L758.6,555.2 L757.2,557.2 L757.5,559.4 L760.1,561.2 L759.2,563.5 L760.8,565.9 L759.8,569.1 L761.4,571.3 L764.6,572.3 L766.5,573.2 L768.3,574.5 L771.1,570.7 L773.5,570.2 L776.2,572.7 L777.8,569.5 L776.9,567.2 L777.1,565.0 L777.0,562.7 L776.3,565.7 L777.4,568.1 L779.1,570.2 L781.8,572.3 L777.7,574.5 L779.7,576.6 L781.1,578.8 L777.5,580.1 L775.0,578.6 L773.4,582.3 L771.1,582.1 L772.4,582.1 L770.3,585.1 L771.6,587.1 L771.3,589.6 L775.8,588.4 L778.1,587.9 L780.3,587.1 L780.6,588.9 L781.0,591.0 L780.2,593.3 L780.0,595.4 L783.4,596.5 L783.3,598.8 L785.6,600.0 L786.4,601.8 L786.9,600.6 L788.5,599.2 L789.1,596.5 L791.8,594.6 L788.6,591.1 L792.5,592.2 L794.9,594.0 L794.1,593.8 L795.2,595.9 L796.5,597.9 L796.7,600.1 L794.4,602.6 L795.0,604.6 L796.4,606.4 L795.6,608.6 L795.8,610.8 L796.5,612.9 L799.2,614.7 L799.1,617.0 L797.6,619.3 L799.9,621.3 L798.2,623.6 L799.7,625.7 L801.6,625.2 L803.6,624.8 L805.6,624.3 L807.3,625.6 L809.0,627.0 L810.6,628.4 L812.3,629.7 L813.0,631.7 L813.6,633.7 L814.3,635.7 L815.0,637.7 L815.5,639.7 L816.0,641.8 L816.5,643.8 L817.0,645.8 L817.7,647.8 L818.4,649.8 L819.0,651.8 L819.7,653.8 L821.0,656.5 L822.3,659.1 L823.6,657.4 L825.0,655.8 L826.4,654.1 L827.7,652.4" fill="none" stroke="#d48aa7" stroke-width="4.0" stroke-dasharray="4.0 4.3" stroke-linejoin="round"/>
</g>
<text x="204.40" y="900" font-size="32" fill="#262626" textLength="37.6" lengthAdjust="spacingAndGlyphs">10</text>
<text x="243.03" y="888.8" font-size="23.2" fill="#262626">1</text>
<text x="309.92" y="900" font-size="32" fill="#262626" textLength="37.6" lengthAdjust="spacingAndGlyphs">10</text>
<text x="348.87" y="888.8" font-size="23.2" fill="#262626">2</text>
<text x="415.44" y="900" font-size="32" fill="#262626" textLength="37.6" lengthAdjust="spacingAndGlyphs">10</text>
<text x="454.46" y="888.8" font-size="23.2" fill="#262626">3</text>
<text x="520.96" y="900" font-size="32" fill="#262626" textLength="37.6" lengthAdjust="spacingAndGlyphs">10</text>
<text x="559.98" y="888.8" font-size="23.2" fill="#262626">4</text>
<text x="626.48" y="900" font-size="32" fill="#262626" textLength="37.6" lengthAdjust="spacingAndGlyphs">10</text>
<text x="665.45" y="888.8" font-size="23.2" fill="#262626">5</text>
<text x="732.00" y="900" font-size="32" fill="#262626" textLength="37.6" lengthAdjust="spacingAndGlyphs">10</text>
<text x="770.87" y="888.8" font-size="23.2" fill="#262626">6</text>
<text x="837.52" y="900" font-size="32" fill="#262626" textLength="37.6" lengthAdjust="spacingAndGlyphs">10</text>
<text x="876.46" y="888.8" font-size="23.2" fill="#262626">7</text>
<text x="65.4" y="177.7" font-size="32" fill="#262626" textLength="37.6" lengthAdjust="spacingAndGlyphs">10</text>
<rect x="105.9" y="158.3" width="13.9" height="2.1" fill="#262626"/>
<text x="122.42" y="166.8" font-size="23.2" fill="#262626">3</text>
<text x="65.4" y="361.0" font-size="32" fill="#262626" textLength="37.6" lengthAdjust="spacingAndGlyphs">10</text>
<rect x="105.9" y="341.6" width="13.9" height="2.1" fill="#262626"/>
<text x="122.37" y="350.1" font-size="23.2" fill="#262626">5</text>
<text x="65.4" y="544.4" font-size="32" fill="#262626" textLength="37.6" lengthAdjust="spacingAndGlyphs">10</text>
<rect x="105.9" y="525.0" width="13.9" height="2.1" fill="#262626"/>
<text x="122.34" y="533.5" font-size="23.2" fill="#262626">7</text>
<text x="65.4" y="727.7" font-size="32" fill="#262626" textLength="37.6" lengthAdjust="spacingAndGlyphs">10</text>
<rect x="105.9" y="708.3" width="13.9" height="2.1" fill="#262626"/>
<text x="122.35" y="716.8" font-size="23.2" fill="#262626">9</text>
<text x="352.5" y="945" font-size="34.3" fill="#262626" textLength="406" lengthAdjust="spacingAndGlyphs">fragment separation, bp</text>
<text transform="translate(45.3,591.3) rotate(-90)" x="0" y="0" font-size="34.3" fill="#262626" textLength="310" lengthAdjust="spacingAndGlyphs">probability density</text>
<line x1="965" y1="371.6" x2="1026" y2="371.6" stroke="#001c7f" stroke-width="4.2" stroke-linecap="round"/>
<text x="1051" y="383.5" font-size="32" fill="#262626" textLength="177" lengthAdjust="spacingAndGlyphs">47738_4#7</text>
<line x1="965" y1="598" x2="1026" y2="598" stroke="#8fb7b3" stroke-width="4.0" stroke-dasharray="4.0 4.3"/>
<text x="1051" y="610" font-size="32" fill="#8fb7b3" textLength="218.5" lengthAdjust="spacingAndGlyphs">example good</text>
<line x1="965" y1="642" x2="1026" y2="642" stroke="#d48aa7" stroke-width="4.0" stroke-dasharray="4.0 4.3"/>
<text x="1051" y="654" font-size="32" fill="#d48aa7" textLength="200" lengthAdjust="spacingAndGlyphs">example bad</text>
</svg>
</body></html>
